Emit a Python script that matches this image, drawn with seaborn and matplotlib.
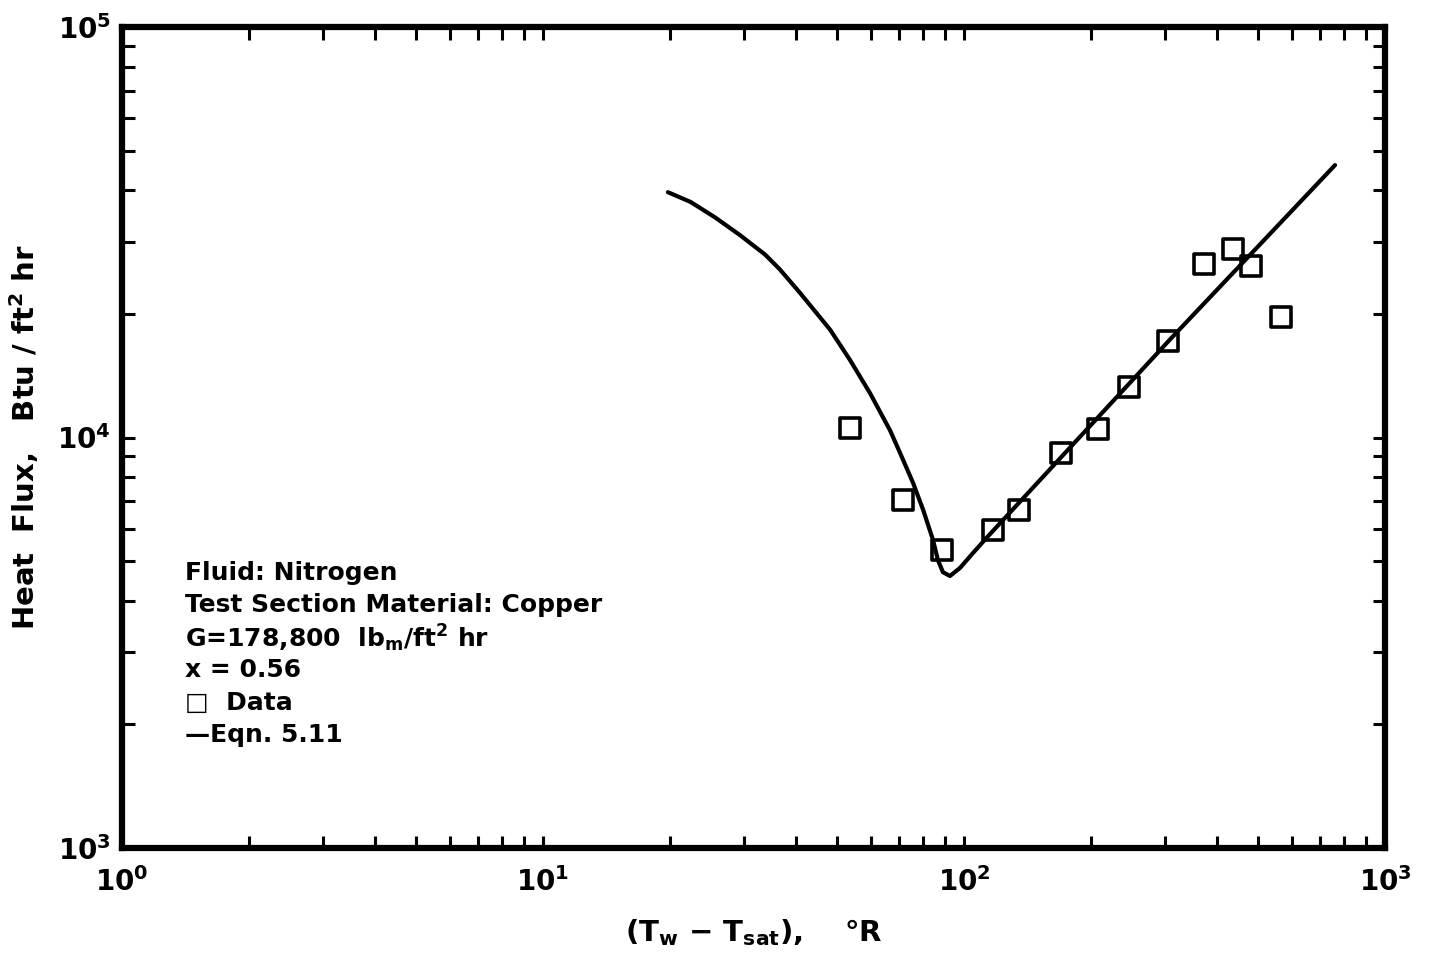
import math
import matplotlib
matplotlib.use('Agg')
import matplotlib.pyplot as plt
import matplotlib.ticker as mticker
import seaborn as sns
import pandas as pd

# measured data (squares)
data_dt = [53.6, 71.6, 88.7, 117, 135, 170, 208, 247, 305, 372, 435, 481, 566]
data_q = [10550, 7050, 5320, 5950, 6660, 9170, 10500, 13270, 17180, 26480, 28770, 26200, 19660]

# Eqn. 5.11 curve
eqn_dt = [19.8, 22.4, 25.6, 29.4, 33.7, 36.5, 40.8, 48.1, 53.6, 59.8, 66.7, 70.5,
          75.7, 80.0, 84.4, 86.7, 89.1, 92.6, 97.8, 105, 113, 308, 761]
eqn_q = [39600, 37500, 34400, 31100, 27900, 25700, 22500, 18300, 15450, 12830, 10420, 9170,
         7750, 6660, 5630, 5030, 4700, 4600, 4810, 5230, 5690, 17300, 46100]

note_lines = [
    'Fluid: Nitrogen',
    'Test Section Material: Copper',
    r'G=178,800  lb$_{\mathrm{m}}$/ft$^{2}$ hr',
    'x = 0.56',
    '\u25a1  Data',
    '\u2014Eqn. 5.11',
]

sns.set_style('ticks')
plt.rcParams['font.family'] = ['DejaVu Sans']
plt.rcParams['font.weight'] = 'bold'
plt.rcParams['mathtext.default'] = 'bf'
plt.rcParams['mathtext.fontset'] = 'dejavusans'
plt.rcParams['text.color'] = 'black'
plt.rcParams['axes.labelcolor'] = 'black'
plt.rcParams['xtick.color'] = 'black'
plt.rcParams['ytick.color'] = 'black'
plt.rcParams['axes.edgecolor'] = 'black'

fig = plt.figure(figsize=(14.29, 9.59), dpi=100)
ax = fig.add_axes([0.0854, 0.1157, 0.8838, 0.8561])

df_data = pd.DataFrame({'dt': data_dt, 'q': data_q})
df_eqn = pd.DataFrame({'dt': eqn_dt, 'q': eqn_q})

sns.lineplot(data=df_eqn, x='dt', y='q', color='black', linewidth=3, ax=ax,
             sort=False, estimator=None)
sns.scatterplot(data=df_data, x='dt', y='q', marker='s', s=210,
                facecolor='none', edgecolor='black', linewidth=2.6, ax=ax, zorder=3)

ax.set_xscale('log')
ax.set_yscale('log')
ax.set_xlim(1, 1000)
ax.set_ylim(1e3, 1e5)

fmt = mticker.FuncFormatter(lambda v, p: r'$10^{%d}$' % round(math.log10(v)))
ax.xaxis.set_major_formatter(fmt)
ax.yaxis.set_major_formatter(fmt)
ax.xaxis.set_minor_formatter(mticker.NullFormatter())
ax.yaxis.set_minor_formatter(mticker.NullFormatter())

ax.tick_params(which='both', direction='in', top=True, right=True,
               length=9, width=2.2, labelsize=20)
ax.tick_params(axis='x', pad=14)
ax.tick_params(axis='y', pad=8)
for s in ax.spines.values():
    s.set_linewidth(4.5)

ax.set_xlabel(r'(T$_{w}$ $-$ T$_{sat}$),    $\degree$R', fontsize=21, fontweight='bold', labelpad=14)
ax.set_ylabel(r'Heat  Flux,   Btu / ft$^{2}$ hr', fontsize=21, fontweight='bold', labelpad=12)

y0 = 0.335
for i, line in enumerate(note_lines):
    ax.text(0.05, y0 - i * 0.0395, line, transform=ax.transAxes, fontsize=18,
            fontweight='bold', va='center', ha='left')

fig.savefig('out.png', dpi=100)
